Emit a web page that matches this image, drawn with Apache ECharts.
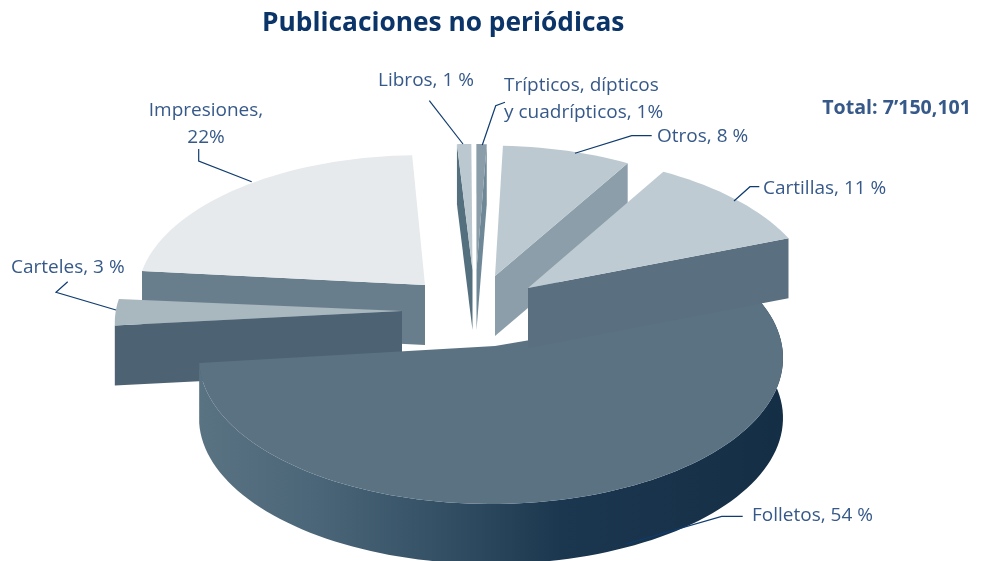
<!DOCTYPE html>
<html><head><meta charset="utf-8">
<style>html,body{margin:0;padding:0;background:#fff}#c{width:982px;height:561px}</style>
<script src="https://cdn.jsdelivr.net/npm/echarts@6/dist/echarts.min.js"></script>
</head><body><div id="c"></div>
<script>
const titleText = 'Publicaciones no periódicas';
const totalText = 'Total: 7’150,101';
// listed back to front, the order they are painted in
const categories = ['Impresiones','Otros','Libros','Trípticos','Carteles','Folletos','Cartillas'];
const values = [22, 8, 1, 1, 3, 54, 11];
const labelTexts = ['Impresiones,\n22%','Otros, 8 %','Libros, 1 %','Trípticos, dípticos\ny cuadrípticos, 1%','Carteles, 3 %','Folletos, 54 %','Cartillas, 11 %'];

// Layout of the exploded pie, separate from the data
const pie = {cx:495, cy:346, rx:292, ry:146, depth:60, perspX:-4, perspY:12};
const explode = [[-70,-61],[0,-70],[-22.5,-76],[-18.5,-76],[-93,-35],[0,0],[33,-58]];
const startDeg = [190.6,-87.6,-92.4,-89.2,179,-23,-61.5];
const sweepFit = [0.98,0.913,0.83,0.6,1,1.034,0.92];
const radiusFit = [0.972,0.975,0.945,0.945,0.97,1,1];
const sideEdge = ['start','end','start','end','start','arc','end'];
const topColors = ['#e6eaed','#bdc9d0','#bcc8cf','#8a9da8','#a9b7bf','#5b7283','#bfcbd2'];
const sideColors = ['#697e8c','#8b9ea9','#54707f','#6f8897','#4d6374','#5b7283','#5a7081'];
const labelPos = [[206,111,'center'],[657,137,'left'],[426,81,'center'],[504,86,'left'],[11,268,'left'],[752,516,'left'],[763,189,'left']];
const leaders = [
  [[198.7,149],[198.7,161],[251.7,181.7]],
  [[651.7,135.7],[631.7,135.7],[575,153.3]],
  [[429.3,100.7],[463,144]],
  [[505,102.3],[495.7,105.7],[482.3,145]],
  [[67.7,281.7],[56,292.3],[116,310]],
  [[742.7,516.3],[721.7,516.3],[626,544]],
  [[759.3,186.7],[750,186.7],[734,201]]
];
const textColor = '#36598a', leaderColor = '#0f3c70', fontFam = '"Open Sans", sans-serif';
const total = values.reduce((a,b)=>a+b,0);

function sliceGeom(i){
  const ax = pie.cx + explode[i][0], ay = pie.cy + explode[i][1];
  const ox = ax + pie.perspX, oy = ay + pie.perspY;
  const r = radiusFit[i];
  const a0 = startDeg[i];
  const sweep = values[i]/total*360*sweepFit[i];
  const n = Math.max(6, Math.ceil(sweep/2));
  const arc = [];
  for(let k=0;k<=n;k++){
    const t = (a0 + sweep*k/n)*Math.PI/180;
    arc.push([ox + pie.rx*r*Math.cos(t), oy + pie.ry*r*Math.sin(t)]);
  }
  return {apex:[ax,ay], arc};
}
const down = p => [p[0], p[1]+pie.depth];

function renderItem(params){
  const i = params.dataIndex;
  const g = sliceGeom(i);
  const first = g.arc[0], last = g.arc[g.arc.length-1];
  let sidePts, sideFill = sideColors[i];
  if(sideEdge[i]==='start') sidePts = [g.apex, first, down(first), down(g.apex)];
  else if(sideEdge[i]==='end') sidePts = [g.apex, last, down(last), down(g.apex)];
  else {
    sidePts = g.arc.concat(g.arc.slice().reverse().map(down));
    sideFill = new echarts.graphic.LinearGradient(0,0,1,0,[
      {offset:0,color:'#5a7383'},{offset:0.2,color:'#4b6678'},{offset:0.42,color:'#334f64'},
      {offset:0.62,color:'#1b374f'},{offset:1,color:'#142e45'}]);
  }
  const children = [
    {type:'polygon',shape:{points:sidePts},style:{fill:sideFill}},
    {type:'polygon',shape:{points:[g.apex].concat(g.arc)},style:{fill:topColors[i]}},
    {type:'polyline',shape:{points:leaders[i]},style:{fill:'none',stroke:leaderColor,lineWidth:1.2},z2:5},
    {type:'text',z2:6,style:{text:labelTexts[i],x:labelPos[i][0],y:labelPos[i][1],align:labelPos[i][2],verticalAlign:'middle',
      fill:textColor,font:'19px '+fontFam,lineHeight:27,textAlign:labelPos[i][2],textVerticalAlign:'middle'}}
  ];
  // second lines start lower: anchor multi-line labels on their first line
  if(labelTexts[i].indexOf('\n')>=0){
    children[3].style.verticalAlign='top'; children[3].style.textVerticalAlign='top';
    children[3].style.y = labelPos[i][1]-13.5;
  }
  return {type:'group',children};
}

const chart = echarts.init(document.getElementById('c'),null,{renderer:'canvas'});
chart.setOption({
  animation:false,
  backgroundColor:'#fff',
  title:[
    {text:titleText,left:262,top:11,padding:0,textStyle:{color:'#0b3468',fontSize:26.3,fontWeight:'bold',fontFamily:fontFam}},
    {text:totalText,right:11,top:98,padding:0,textStyle:{color:textColor,fontSize:19.6,fontWeight:'bold',fontFamily:fontFam}}
  ],
  xAxis:{show:false},yAxis:{show:false},
  series:[{
    type:'custom',coordinateSystem:'none',clip:false,silent:true,
    renderItem,
    data:categories.map((c,i)=>({name:c,value:values[i]}))
  }]
});
</script></body></html>
